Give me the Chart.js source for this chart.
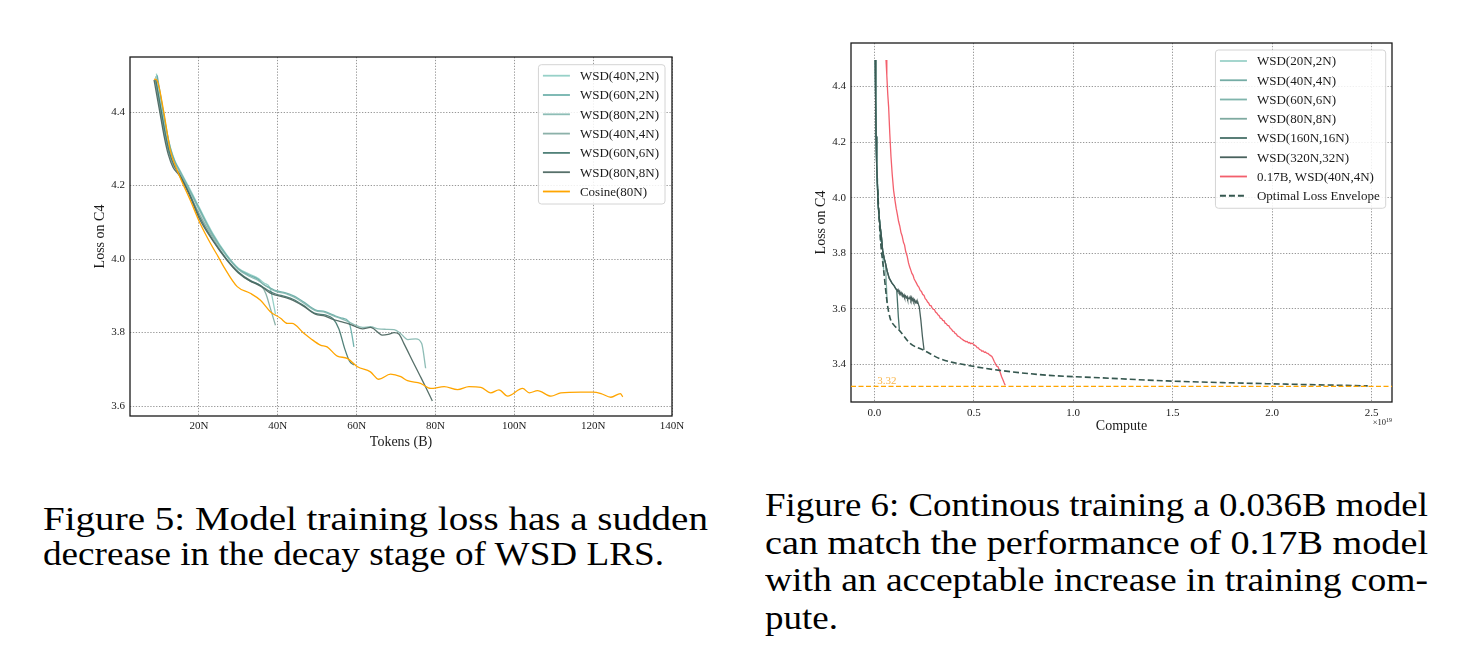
<!DOCTYPE html>
<html>
<head>
<meta charset="utf-8">
<title>WSD loss curves</title>
<script src="https://cdn.jsdelivr.net/npm/chart.js@4.4.1/dist/chart.umd.min.js"></script>
<style>
  html, body { margin: 0; padding: 0; background: #fff; }
  body { width: 1467px; height: 653px; position: relative; overflow: hidden; }
  canvas { position: absolute; }
  #fig5 { left: 92px; top: 40px; }
  #fig6 { left: 813px; top: 30px; }
  .cap { position: absolute; font-family: "Liberation Serif", serif; font-size: 34px; line-height: 34px;
         color: #000; white-space: nowrap; transform-origin: 0 0; }
</style>
</head>
<body>
<canvas id="fig5" width="608" height="411"></canvas>
<canvas id="fig6" width="607" height="405"></canvas>

<div class="cap" data-x="43" data-base="530" data-w="665">Figure 5: Model training loss has a sudden</div>
<div class="cap" data-x="43" data-base="565" data-w="621">decrease in the decay stage of WSD LRS.</div>
<div class="cap" data-x="765" data-base="516" data-w="663">Figure 6: Continous training a 0.036B model</div>
<div class="cap" data-x="765" data-base="554" data-w="663">can match the performance of 0.17B model</div>
<div class="cap" data-x="765" data-base="591" data-w="663">with an acceptable increase in training com-</div>
<div class="cap" data-x="765" data-base="629" data-w="73">pute.</div>

<script>
// ---- Figure 5: loss vs tokens (units of N) ----
const leftTokenTicks = [20, 40, 60, 80, 100, 120, 140];
const leftLossTicks = [3.6, 3.8, 4.0, 4.2, 4.4];

const wsd40n2nTokens = [9.2, 10.7, 11.7, 12.7, 13.8, 15, 17.5, 20, 23.5, 27, 30, 33, 35, 36.5, 38, 38.7, 39.4];
const wsd40n2nLoss = [4.505, 4.41, 4.35, 4.305, 4.27, 4.245, 4.195, 4.142, 4.07, 4.012, 3.975, 3.958, 3.948, 3.935, 3.922, 3.89, 3.85];

const wsd60n2nTokens = [9.4, 10.8, 11.8, 12.8, 13.9, 15, 17.5, 20, 23.5, 27, 30, 33, 35, 36.5, 38, 39.5, 42, 44, 46.5, 49.5, 52, 54, 56, 58, 58.7, 59.3];
const wsd60n2nLoss = [4.5, 4.41, 4.35, 4.3, 4.265, 4.242, 4.19, 4.138, 4.066, 4.01, 3.973, 3.955, 3.945, 3.93, 3.922, 3.914, 3.908, 3.9, 3.884, 3.862, 3.857, 3.848, 3.84, 3.83, 3.8, 3.761];

const wsd80n2nTokens = [9, 10.5, 11.5, 12.5, 13.7, 15, 17.5, 20, 23.5, 27, 30, 33, 35, 36.5, 38, 39.5, 42, 44, 46.5, 49.5, 52, 54, 56, 58, 59.3, 61.5, 63.5, 65.5, 67.5, 69.5, 71, 73, 75, 76.5, 77.5];
const wsd80n2nLoss = [4.497, 4.402, 4.345, 4.298, 4.263, 4.24, 4.188, 4.135, 4.064, 4.008, 3.972, 3.952, 3.942, 3.93, 3.92, 3.912, 3.906, 3.897, 3.881, 3.86, 3.855, 3.846, 3.838, 3.829, 3.822, 3.814, 3.816, 3.81, 3.809, 3.808, 3.799, 3.781, 3.783, 3.77, 3.703];

const wsd40n4nTokens = [8.8, 10.3, 11.3, 12.3, 13.5, 15, 17.5, 20, 23.5, 27, 30, 33, 35, 36, 37, 38, 39.4];
const wsd40n4nLoss = [4.49, 4.395, 4.335, 4.29, 4.255, 4.232, 4.18, 4.125, 4.058, 4.0, 3.962, 3.94, 3.932, 3.925, 3.905, 3.87, 3.82];

const wsd60n6nTokens = [9, 10.5, 11.5, 12.5, 13.7, 15, 17.5, 20, 23.5, 27, 30, 33, 35, 36.5, 38, 39.5, 42, 44, 46.5, 49.5, 52, 54, 55.5, 57, 58.2, 59.3];
const wsd60n6nLoss = [4.49, 4.398, 4.338, 4.29, 4.255, 4.232, 4.18, 4.118, 4.052, 4.0, 3.965, 3.942, 3.932, 3.922, 3.912, 3.905, 3.898, 3.89, 3.874, 3.852, 3.848, 3.838, 3.81, 3.755, 3.722, 3.712];

const wsd80n8nTokens = [8.6, 10.2, 11.2, 12.2, 13.4, 15, 17.5, 20, 23.5, 27, 30, 33, 35, 36.5, 38, 39.5, 42, 44, 46.5, 49.5, 52, 54, 56, 58, 59.3, 61.5, 63.5, 65.5, 66.5, 68, 69.5, 70.7, 72, 74.5, 76.2, 77.5, 79.2];
const wsd80n8nLoss = [4.488, 4.392, 4.332, 4.285, 4.25, 4.228, 4.176, 4.112, 4.05, 3.998, 3.963, 3.94, 3.93, 3.92, 3.908, 3.902, 3.895, 3.887, 3.872, 3.85, 3.845, 3.836, 3.83, 3.824, 3.818, 3.81, 3.814, 3.8, 3.793, 3.795, 3.8, 3.796, 3.77, 3.716, 3.68, 3.652, 3.614];

const cosineTokens = [8.6, 9.3, 11, 12.7, 14.8, 17.8, 20.3, 22.9, 24.9, 26.3, 29.7, 33, 35.6, 38.1, 40.7, 42.4, 43.6, 46.6, 48.3, 50.8, 52.5, 55.1, 57.6, 60.2, 63.5, 65.6, 68.6, 71.2, 72.9, 76.2, 78.8, 82.2, 85.6, 88.5, 91.5, 94, 96.1, 98.3, 102.1, 103.8, 105.9, 109.3, 111.8, 116.9, 119.9, 122, 124.5, 126.9, 127.5];
const cosineLoss = [4.49, 4.487, 4.405, 4.297, 4.233, 4.16, 4.097, 4.043, 4.006, 3.979, 3.925, 3.907, 3.888, 3.857, 3.839, 3.825, 3.825, 3.798, 3.784, 3.766, 3.761, 3.736, 3.73, 3.707, 3.693, 3.673, 3.687, 3.68, 3.669, 3.662, 3.648, 3.653, 3.645, 3.653, 3.651, 3.636, 3.644, 3.627, 3.648, 3.636, 3.642, 3.627, 3.636, 3.638, 3.638, 3.634, 3.624, 3.634, 3.625];

// ---- Figure 6: loss vs compute (x1e19) ----
const rightComputeTicks = [0, 0.5, 1.0, 1.5, 2.0, 2.5];
const rightLossTicks = [3.4, 3.6, 3.8, 4.0, 4.2, 4.4];
const targetLoss = 3.32;

const w20Compute = [0.005, 0.007, 0.009, 0.012, 0.0145, 0.017];
const w20Loss = [4.496, 4.35, 4.22, 4.12, 4.07, 4.03];

const w40Compute = [0.005, 0.007, 0.009, 0.012, 0.015, 0.02, 0.028, 0.032];
const w40Loss = [4.496, 4.35, 4.22, 4.12, 4.06, 3.97, 3.905, 3.84];

const w60Compute = [0.005, 0.007, 0.009, 0.012, 0.015, 0.02, 0.028, 0.035, 0.042, 0.047];
const w60Loss = [4.496, 4.35, 4.22, 4.12, 4.06, 3.97, 3.905, 3.865, 3.81, 3.74];

const w80Compute = [0.005, 0.007, 0.009, 0.012, 0.015, 0.02, 0.028, 0.035, 0.042, 0.05, 0.056, 0.06, 0.065];
const w80Loss = [4.496, 4.35, 4.22, 4.12, 4.06, 3.97, 3.905, 3.865, 3.81, 3.78, 3.765, 3.7, 3.62];

const w160Compute = [0.005, 0.007, 0.009, 0.012, 0.015, 0.02, 0.028, 0.035, 0.042, 0.05, 0.056, 0.065, 0.075, 0.089, 0.1, 0.108, 0.113, 0.117, 0.121, 0.126];
const w160Loss = [4.496, 4.35, 4.22, 4.12, 4.06, 3.97, 3.905, 3.865, 3.81, 3.78, 3.765, 3.735, 3.71, 3.692, 3.682, 3.672, 3.666, 3.62, 3.57, 3.525];

const w320Compute = [0.005, 0.007, 0.009, 0.012, 0.015, 0.02, 0.028, 0.035, 0.042, 0.05, 0.056, 0.065, 0.075, 0.089, 0.1, 0.108,
  0.113, 0.117, 0.12, 0.124, 0.128, 0.131, 0.135, 0.139, 0.142, 0.146, 0.15, 0.153, 0.157, 0.161, 0.165, 0.168, 0.172, 0.176,
  0.18, 0.184, 0.188, 0.191, 0.195, 0.199, 0.203, 0.207, 0.211, 0.215, 0.219, 0.223, 0.226, 0.234, 0.242, 0.25];
const w320Loss = [4.496, 4.35, 4.22, 4.12, 4.06, 3.97, 3.905, 3.865, 3.81, 3.78, 3.765, 3.735, 3.71, 3.692, 3.682, 3.672,
  3.67, 3.663, 3.668, 3.659, 3.662, 3.652, 3.658, 3.65, 3.653, 3.644, 3.65, 3.641, 3.646, 3.639, 3.644, 3.634, 3.638, 3.636,
  3.643, 3.631, 3.64, 3.63, 3.636, 3.625, 3.631, 3.622, 3.628, 3.619, 3.623, 3.613, 3.607, 3.56, 3.5, 3.452];

const bigCompute = [0.059, 0.063, 0.068, 0.072, 0.078, 0.084, 0.09, 0.097, 0.104, 0.11, 0.116, 0.122, 0.128, 0.134, 0.14, 0.147, 0.152, 0.158, 0.165, 0.172, 0.178, 0.184, 0.189, 0.195, 0.2, 0.206, 0.212, 0.218, 0.224, 0.231, 0.237, 0.243, 0.25, 0.256, 0.262, 0.268, 0.273, 0.279, 0.285, 0.29, 0.296, 0.302, 0.308, 0.315, 0.32, 0.326, 0.332, 0.338, 0.344, 0.35, 0.356, 0.362, 0.368, 0.374, 0.382, 0.388, 0.394, 0.4, 0.406, 0.412, 0.418, 0.424, 0.43, 0.436, 0.442, 0.449, 0.455, 0.461, 0.467, 0.473, 0.479, 0.485, 0.491, 0.499, 0.505, 0.511, 0.517, 0.523, 0.529, 0.535, 0.541, 0.547, 0.553, 0.559, 0.565, 0.571, 0.577, 0.583, 0.591, 0.597, 0.603, 0.609, 0.615, 0.621, 0.627, 0.633, 0.64, 0.646, 0.652, 0.658];
const bigLoss = [4.496, 4.44, 4.37, 4.328, 4.23, 4.147, 4.085, 4.027, 3.99, 3.962, 3.94, 3.915, 3.898, 3.875, 3.862, 3.838, 3.83, 3.806, 3.79, 3.765, 3.75, 3.738, 3.727, 3.72, 3.708, 3.7, 3.692, 3.683, 3.678, 3.666, 3.662, 3.652, 3.648, 3.636, 3.632, 3.624, 3.621, 3.612, 3.611, 3.604, 3.598, 3.597, 3.588, 3.584, 3.578, 3.575, 3.566, 3.565, 3.558, 3.557, 3.548, 3.546, 3.54, 3.539, 3.529, 3.526, 3.519, 3.518, 3.511, 3.509, 3.502, 3.5, 3.497, 3.493, 3.49, 3.486, 3.484, 3.481, 3.482, 3.477, 3.478, 3.474, 3.476, 3.472, 3.468, 3.466, 3.46, 3.459, 3.453, 3.452, 3.447, 3.448, 3.443, 3.444, 3.44, 3.439, 3.435, 3.432, 3.428, 3.42, 3.41, 3.402, 3.393, 3.392, 3.382, 3.37, 3.355, 3.345, 3.334, 3.324];

const envelopeCompute = [0.017, 0.024, 0.032, 0.047, 0.065, 0.08, 0.1, 0.126, 0.18, 0.25, 0.33, 0.47, 0.63, 0.88, 1.14, 1.47, 1.97, 2.48];
const envelopeLoss = [4.03, 3.93, 3.84, 3.74, 3.62, 3.565, 3.54, 3.522, 3.475, 3.45, 3.42, 3.396, 3.378, 3.36, 3.351, 3.34, 3.33, 3.322];

const SERIF = '"Liberation Serif", "Times New Roman", serif';
const INK = '#1a1a1a';

function pts(xs, ys) {
  return xs.map((x, i) => ({x: x, y: ys[i]}));
}

// black box round the plot area
const frame = {
  id: 'frame',
  afterDatasetsDraw(chart) {
    const {ctx, chartArea: a} = chart;
    ctx.save();
    ctx.strokeStyle = INK;
    ctx.lineWidth = 1.3;
    ctx.strokeRect(a.left, a.top, a.right - a.left, a.bottom - a.top);
    ctx.restore();
  }
};

// matplotlib-like legend inside the upper right corner
const legendBox = {
  id: 'legendBox',
  afterDraw(chart, args, o) {
    const {ctx, chartArea: a} = chart;
    const sets = chart.data.datasets;
    ctx.save();
    ctx.font = '13px ' + SERIF;
    const textW = Math.max(...sets.map(d => ctx.measureText(d.label).width));
    const w = 41.5 + textW + 6;
    const h = 11 + (sets.length - 1) * o.rowStep + 12.5;
    const x0 = a.right - o.right - w;
    const y0 = a.top + o.top;
    ctx.beginPath();
    ctx.roundRect(x0, y0, w, h, 3);
    ctx.fillStyle = 'rgba(255,255,255,0.85)';
    ctx.fill();
    ctx.strokeStyle = '#d4d4d4';
    ctx.lineWidth = 1;
    ctx.stroke();
    sets.forEach((d, i) => {
      const y = y0 + 11 + i * o.rowStep;
      ctx.beginPath();
      ctx.setLineDash(d.borderDash || []);
      ctx.strokeStyle = d.borderColor;
      ctx.lineWidth = 1.8;
      ctx.moveTo(x0 + 4.5, y);
      ctx.lineTo(x0 + 31.5, y);
      ctx.stroke();
      ctx.setLineDash([]);
      ctx.fillStyle = INK;
      ctx.textBaseline = 'middle';
      ctx.fillText(d.label, x0 + 41.5, y + 1);
    });
    ctx.restore();
  }
};

// dashed orange target line with its value
const targetLine = {
  id: 'targetLine',
  afterDatasetsDraw(chart, args, o) {
    const {ctx, chartArea: a, scales: {x, y}} = chart;
    const py = y.getPixelForValue(o.value);
    ctx.save();
    ctx.beginPath();
    ctx.setLineDash([5, 2.5]);
    ctx.strokeStyle = '#ffa500';
    ctx.lineWidth = 1.3;
    ctx.moveTo(a.left, py);
    ctx.lineTo(a.right, py);
    ctx.stroke();
    ctx.setLineDash([]);
    ctx.fillStyle = '#f8b64c';
    ctx.font = '11px ' + SERIF;
    ctx.fillText(o.value.toFixed(2), x.getPixelForValue(0) + 3, py - 2);
    ctx.restore();
  }
};

// x1e19 offset text under the right end of the x axis
const offsetText = {
  id: 'offsetText',
  afterDraw(chart) {
    const {ctx, chartArea: a} = chart;
    ctx.save();
    ctx.fillStyle = INK;
    ctx.textAlign = 'right';
    ctx.font = '6px ' + SERIF;
    ctx.fillText('19', a.right, a.bottom + 20);
    const sw = ctx.measureText('19').width;
    ctx.font = '8.5px ' + SERIF;
    ctx.fillText('\u00d710', a.right - sw, a.bottom + 23);
    ctx.restore();
  }
};

function axis(opts) {
  return {
    type: 'linear',
    min: opts.min,
    max: opts.max,
    afterBuildTicks: s => { s.ticks = opts.ticks.map(v => ({value: v})); },
    afterFit: s => { if (opts.height) s.height = opts.height; if (opts.width) s.width = opts.width; },
    grid: {color: '#8c8c8c', lineWidth: 0.9, drawTicks: false},
    border: {display: false, dash: [1.3, 1.6]},
    ticks: {
      autoSkip: false, maxRotation: 0, padding: opts.pad, color: INK,
      font: {family: SERIF, size: 11},
      callback: opts.fmt
    },
    title: {display: true, text: opts.title, color: INK, padding: 0, font: {family: SERIF, size: 14}}
  };
}

function line(label, xs, ys, color, i, extra) {
  return Object.assign({
    label: label, data: pts(xs, ys), borderColor: color, borderWidth: 1.3,
    pointRadius: 0, fill: false, order: -i
  }, extra || {});
}

const smooth = {cubicInterpolationMode: 'monotone'};

new Chart(document.getElementById('fig5'), {
  type: 'line',
  data: {
    datasets: [
      line('WSD(40N,2N)', wsd40n2nTokens, wsd40n2nLoss, 'rgba(140,204,194,0.9)', 0, smooth),
      line('WSD(60N,2N)', wsd60n2nTokens, wsd60n2nLoss, 'rgba(98,170,164,0.9)', 1, smooth),
      line('WSD(80N,2N)', wsd80n2nTokens, wsd80n2nLoss, 'rgba(130,182,174,0.9)', 2, smooth),
      line('WSD(40N,4N)', wsd40n4nTokens, wsd40n4nLoss, 'rgba(128,168,160,0.9)', 3, smooth),
      line('WSD(60N,6N)', wsd60n6nTokens, wsd60n6nLoss, 'rgba(62,115,106,0.9)', 4, smooth),
      line('WSD(80N,8N)', wsd80n8nTokens, wsd80n8nLoss, 'rgba(78,104,98,0.95)', 5, smooth),
      line('Cosine(80N)', cosineTokens, cosineLoss, '#ffa500', 6, smooth)
    ]
  },
  options: {
    responsive: false, animation: false, devicePixelRatio: 1,
    layout: {padding: {top: 17, right: 28, left: 0, bottom: 0}},
    plugins: {legend: {display: false}, tooltip: {enabled: false},
              legendBox: {top: 7.7, right: 7, rowStep: 19.3}},
    scales: {
      x: axis({min: 2.5, max: 140, ticks: leftTokenTicks, height: 35, pad: 4,
               fmt: v => v + 'N', title: 'Tokens (B)'}),
      y: axis({min: 3.573, max: 4.55, ticks: leftLossTicks, width: 38, pad: 5,
               fmt: v => v.toFixed(1), title: 'Loss on C4'})
    }
  },
  plugins: [frame, legendBox]
});

new Chart(document.getElementById('fig6'), {
  type: 'line',
  data: {
    datasets: [
      line('WSD(20N,2N)', w20Compute, w20Loss, 'rgba(150,208,198,0.95)', 0),
      line('WSD(40N,4N)', w40Compute, w40Loss, 'rgba(110,168,160,0.95)', 1),
      line('WSD(60N,6N)', w60Compute, w60Loss, 'rgba(120,176,168,0.95)', 2),
      line('WSD(80N,8N)', w80Compute, w80Loss, 'rgba(120,165,155,0.95)', 3),
      line('WSD(160N,16N)', w160Compute, w160Loss, 'rgba(60,104,96,0.95)', 4),
      line('WSD(320N,32N)', w320Compute, w320Loss, 'rgba(62,88,84,0.95)', 5),
      line('0.17B, WSD(40N,4N)', bigCompute, bigLoss, 'rgba(242,78,92,0.9)', 6),
      line('Optimal Loss Envelope', envelopeCompute, envelopeLoss, '#35574f', 7,
           {borderDash: [6, 3], borderWidth: 1.6, cubicInterpolationMode: 'monotone'})
    ]
  },
  options: {
    responsive: false, animation: false, devicePixelRatio: 1,
    layout: {padding: {top: 13, right: 28, left: 0, bottom: 0}},
    plugins: {legend: {display: false}, tooltip: {enabled: false},
              legendBox: {top: 7, right: 6.3, rowStep: 19.25},
              targetLine: {value: targetLoss}},
    scales: {
      x: axis({min: -0.117, max: 2.602, ticks: rightComputeTicks, height: 33, pad: 4.5,
               fmt: v => v.toFixed(1), title: 'Compute'}),
      y: axis({min: 3.264, max: 4.557, ticks: rightLossTicks, width: 38, pad: 5,
               fmt: v => v.toFixed(1), title: 'Loss on C4'})
    }
  },
  plugins: [frame, targetLine, legendBox, offsetText]
});

// captions: each line stretched to the width it has in the original layout
document.querySelectorAll('.cap').forEach(el => {
  const fs = parseFloat(getComputedStyle(el).fontSize);
  el.style.left = el.dataset.x + 'px';
  el.style.top = (el.dataset.base - fs * 0.8375) + 'px';
  const natural = el.getBoundingClientRect().width;
  el.style.transform = 'scaleX(' + (el.dataset.w / natural) + ')';
});
</script>
</body>
</html>
